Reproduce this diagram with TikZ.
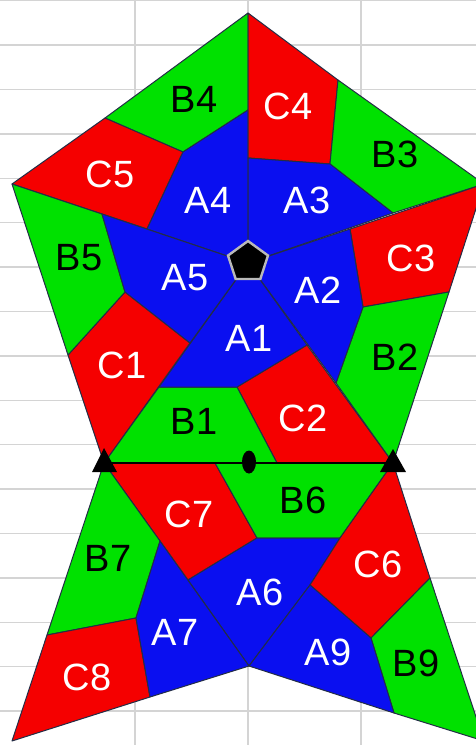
\documentclass[tikz,border=0pt]{standalone}
\usepackage{fontspec}
\setmainfont{Liberation Sans}
\usetikzlibrary{shapes.geometric}
\definecolor{pg}{RGB}{0,225,0}
\definecolor{pr}{RGB}{245,0,0}
\definecolor{pb}{RGB}{10,15,240}
\definecolor{edgec}{RGB}{35,45,70}
\definecolor{gridc}{RGB}{212,212,212}
\begin{document}
\begin{tikzpicture}[x=0.5pt,y=-0.5pt,
  piece/.style={draw=edgec, line width=0.5pt, line join=round},
  pa/.style={piece, fill=pb},
  pbx/.style={piece, fill=pg},
  pc/.style={piece, fill=pr},
  lab/.style={font=\fontsize{19}{19}\selectfont, inner sep=0pt},
  wlab/.style={lab, text=white},
  blab/.style={lab, text=black},
  gline/.style={draw=gridc, line width=0.7pt},
  marker/.style={fill=black}]
\useasboundingbox (0,0) rectangle (476,745);
\fill[white] (0,0) rectangle (476,745);
\foreach \k in {0,...,16} \draw[gline] (0,{0.6+44.4*\k}) -- (476,{0.6+44.4*\k});
\foreach \xx in {135,248,361} \draw[gline] (\xx,0) -- (\xx,745);
% main vertices
\coordinate (T) at (248,13);
\coordinate (UL) at (12,184);
\coordinate (UR) at (484,184);
\coordinate (P) at (248,263);
\coordinate (LW) at (104,463);
\coordinate (RW) at (393,463);
\coordinate (BL) at (12,741);
\coordinate (BR) at (484,741);
\coordinate (BM) at (249,666);
\begin{scope}
\clip (0,0) rectangle (476,745);
% triangle T-UL-P
\path[pbx] (T) -- (105,118) -- (183,152) -- (248,110) -- cycle;
\path[pc] (UL) -- (105,118) -- (183,152) -- (147,229) -- cycle;
\path[pa] (248,110) -- (183,152) -- (147,229) -- (P) -- cycle;
% triangle T-UR-P
\path[pc] (T) -- (338,80) -- (330,164) -- (248,158) -- cycle;
\path[pbx] (338,80) -- (UR) -- (393,213) -- (330,164) -- cycle;
\path[pa] (248,158) -- (330,164) -- (393,213) -- (P) -- cycle;
% triangle UR-RW-P
\path[pc] (350,229) -- (UR) -- (449,292) -- (363,307) -- cycle;
\path[pbx] (363,307) -- (449,292) -- (RW) -- (336,383) -- cycle;
\path[pa] (P) -- (350,229) -- (363,307) -- (336,383) -- cycle;
% triangle RW-LW-P
\path[pc] (237,387) -- (307,345) -- (RW) -- (277,463) -- cycle;
\path[pbx] (LW) -- (159,387) -- (237,387) -- (277,463) -- cycle;
\path[pa] (P) -- (307,345) -- (237,387) -- (159,387) -- cycle;
% triangle LW-UL-P
\path[pc] (68,355) -- (125,292) -- (190,343) -- (LW) -- cycle;
\path[pbx] (UL) -- (102,214) -- (125,292) -- (68,355) -- cycle;
\path[pa] (102,214) -- (P) -- (190,343) -- (125,292) -- cycle;
% lower triangle LW-RW-BM
\path[pc] (LW) -- (215,463) -- (257,538) -- (188,580) -- cycle;
\path[pbx] (215,463) -- (RW) -- (340,538) -- (257,538) -- cycle;
\path[pa] (188,580) -- (257,538) -- (340,538) -- (310,585) -- (BM) -- cycle;
% lower triangle RW-BR-BM
\path[pc] (RW) -- (430,578) -- (371,638) -- (310,585) -- (340,538) -- cycle;
\path[pbx] (371,638) -- (430,578) -- (BR) -- (394,713) -- cycle;
\path[pa] (310,585) -- (371,638) -- (394,713) -- (BM) -- cycle;
% lower triangle LW-BM-BL
\path[pbx] (LW) -- (160,541) -- (136,618) -- (47,635) -- cycle;
\path[pc] (BL) -- (47,635) -- (136,618) -- (150,697) -- cycle;
\path[pa] (160,541) -- (BM) -- (150,697) -- (136,618) -- cycle;
\end{scope}
% waist line and markers
\draw[black, line width=1pt] (LW) -- (RW);
\path[marker] (92,472) -- (117,472) -- (104,448) -- cycle;
\path[marker] (380,472) -- (406,472) -- (393,449) -- cycle;
\node[ellipse, fill=black, minimum width=7pt, minimum height=11.5pt, inner sep=0pt] (mid) at (249,462) {};
\node[regular polygon, regular polygon sides=5, fill=black, draw=gray!55, line width=1.2pt, minimum size=21pt, inner sep=0pt] (pent) at (248,262) {};
% labels
\node[blab] (lB4) at (194,99) {B4};
\node[wlab] (lC4) at (288,106) {C4};
\node[blab] (lB3) at (395,154) {B3};
\node[wlab] (lC5) at (110,174) {C5};
\node[wlab] (lA4) at (208,200) {A4};
\node[wlab] (lA3) at (307,200) {A3};
\node[blab] (lB5) at (79,258) {B5};
\node[wlab] (lC3) at (411,258) {C3};
\node[wlab] (lA5) at (185,278) {A5};
\node[wlab] (lA2) at (318,290) {A2};
\node[wlab] (lA1) at (249,338) {A1};
\node[blab] (lB2) at (395,357) {B2};
\node[wlab] (lC1) at (122,365) {C1};
\node[blab] (lB1) at (194,421) {B1};
\node[wlab] (lC2) at (303,418) {C2};
\node[wlab] (lC7) at (189,514) {C7};
\node[blab] (lB6) at (303,500) {B6};
\node[blab] (lB7) at (108,558) {B7};
\node[wlab] (lC6) at (378,564) {C6};
\node[wlab] (lA6) at (260,592) {A6};
\node[wlab] (lA7) at (175,632) {A7};
\node[wlab] (lA9) at (328,652) {A9};
\node[wlab] (lC8) at (87,677) {C8};
\node[blab] (lB9) at (416,663) {B9};
\end{tikzpicture}
\end{document}
